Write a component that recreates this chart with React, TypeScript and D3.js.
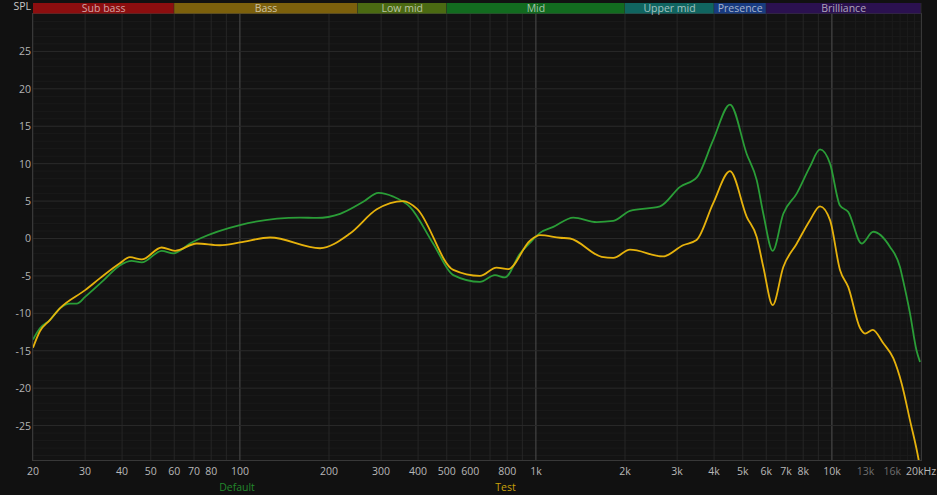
import React from "react";
import * as d3 from "d3";

// ---- data ----
const defaultFreq = [20, 21.1, 22.8, 24.7, 26.7, 28.1, 30, 34.6, 39.3, 43.1, 46.6, 54.4, 59.6, 67.8, 73.3, 100, 159.6, 181.7, 218, 261, 294, 330, 376, 450, 526, 647, 727, 786, 884, 955, 1032, 1145, 1338, 1604, 1826, 2079, 2626, 3069, 3502, 3966, 4526, 5155, 5572, 5866, 6310, 6852, 7604, 8433, 9118, 9857, 10650, 11360, 12600, 13800, 15700, 16980, 17400, 18360, 19300, 19850];
const defaultDb = [-13.5, -12.0, -10.9, -9.3, -8.7, -8.7, -7.8, -5.6, -3.6, -3.0, -3.2, -1.65, -2.0, -0.67, 0, 1.8, 2.8, 2.75, 3.3, 4.9, 6.1, 5.6, 4.2, -0.7, -4.9, -5.8, -4.9, -5.2, -2.0, -0.6, 0.75, 1.55, 2.8, 2.2, 2.35, 3.7, 4.3, 6.9, 8.2, 13.1, 17.9, 11.3, 7.8, 3.3, -1.65, 3.3, 6.0, 9.6, 11.9, 10.0, 4.4, 3.55, -0.67, 0.9, -1.1, -3.8, -5.6, -10.0, -14.9, -16.5];

const testFreq = [20, 21.1, 22.8, 24.7, 30, 33.7, 39.3, 42.5, 46.6, 54.4, 60.4, 71.5, 85.6, 100, 126.4, 186.5, 235.5, 290, 357, 396, 526, 647, 736, 806, 955, 1032, 1206, 1304, 1668, 1826, 2079, 2690, 3140, 3490, 3970, 4526, 5155, 5572, 5866, 6310, 6852, 7604, 8433, 9118, 9857, 10650, 11360, 12460, 12940, 13740, 14920, 16120, 17210, 18360, 19640, 20000];
const testDb = [-14.6, -12.4, -10.9, -9.3, -6.9, -5.3, -3.3, -2.5, -2.8, -1.2, -1.65, -0.67, -0.9, -0.53, 0.13, -1.3, 0.67, 3.9, 5.0, 4.0, -4.2, -5.0, -3.9, -4.1, -0.3, 0.44, 0.1, 0, -2.45, -2.6, -1.5, -2.4, -0.9, -0.2, 4.7, 9.0, 2.9, 0.2, -3.8, -8.9, -3.8, -0.7, 2.45, 4.3, 2.45, -4.2, -6.5, -12.0, -12.7, -12.2, -14.0, -16.0, -19.4, -24.3, -29.6, -31.5];

const bandNames = ["Sub bass", "Bass", "Low mid", "Mid", "Upper mid", "Presence", "Brilliance"];
const bandStart = [20, 60, 250, 500, 2000, 4000, 6000];
const bandEnd = [60, 250, 500, 2000, 4000, 6000, 20000];
const bandColors = ["#8c0e0f", "#7c600c", "#4b6a12", "#126b1f", "#106560", "#183b80", "#2b1150"];

const xTickValues = [20, 30, 40, 50, 60, 70, 80, 100, 200, 300, 400, 500, 600, 800, 1000, 2000, 3000, 4000, 5000, 6000, 7000, 8000, 10000, 13000, 16000, 20000];
const xTickLabels = ["20", "30", "40", "50", "60", "70", "80", "100", "200", "300", "400", "500", "600", "800", "1k", "2k", "3k", "4k", "5k", "6k", "7k", "8k", "10k", "13k", "16k", "20kHz"];
const dimLabels = ["13k", "16k"];
const yTicks = [25, 20, 15, 10, 5, 0, -5, -10, -15, -20, -25];

const seriesNames = ["Default", "Test"];
const seriesColors = ["#2a9d37", "#e6b20c"];
const legendColors = ["#23872c", "#c9a00a"];

export default function App() {
  const W = 937, H = 495;
  const L = 33, R = 921, T = 14, B = 460;
  const x = d3.scaleLog().domain([20, 20000]).range([L, R]);
  const y = d3.scaleLinear().domain([-29.6, 30]).range([B, T]);

  const gridFreqs: number[] = [];
  for (const dec of [10, 100, 1000]) {
    for (let k = 1; k <= 9; k++) {
      const f = k * dec;
      if (f >= 20 && f < 10000) gridFreqs.push(f);
    }
  }
  const fineFreqs: number[] = [];
  for (let f = 10000; f <= 20000; f += 1000) fineFreqs.push(f);

  const minorDb: number[] = [];
  for (let v = -29; v <= 29; v++) if (v % 5 !== 0) minorDb.push(v);
  const majorDb: number[] = [];
  for (let v = -25; v <= 25; v += 5) majorDb.push(v);

  const line = d3
    .line<[number, number]>()
    .x((d) => x(d[0]))
    .y((d) => y(d[1]))
    .curve(d3.curveMonotoneX);

  const defaultPath = line(defaultFreq.map((f, i) => [f, defaultDb[i]] as [number, number])) || "";
  const testPath = line(testFreq.map((f, i) => [f, testDb[i]] as [number, number])) || "";

  const font = "'Open Sans', 'Noto Sans', sans-serif";

  return (
    <svg
      width={W}
      height={H}
      style={{ position: "absolute", left: 0, top: 0, display: "block", background: "#111111" }}
      fontFamily={font}
    >
      <defs>
        <clipPath id="plotClip">
          <rect x={L} y={T} width={R - L} height={B - T} />
        </clipPath>
      </defs>
      <rect x={0} y={0} width={W} height={H} fill="#111111" />
      <rect x={L} y={T} width={R - L} height={B - T} fill="#131313" />

      {/* minor horizontal grid */}
      {minorDb.map((v) => (
        <line key={"mh" + v} x1={L} x2={R} y1={y(v)} y2={y(v)} stroke="#1a1a1a" strokeWidth={1} />
      ))}
      {/* fine vertical grid 10k-20k */}
      {fineFreqs.map((f) => (
        <line key={"fv" + f} x1={x(f)} x2={x(f)} y1={T} y2={B} stroke="#1c1c1c" strokeWidth={1} />
      ))}
      {/* vertical grid */}
      {gridFreqs.map((f) => (
        <line
          key={"v" + f}
          x1={x(f)}
          x2={x(f)}
          y1={T}
          y2={B}
          stroke={f === 100 || f === 1000 ? "#4e4e4e" : "#262626"}
          strokeWidth={1}
        />
      ))}
      <line x1={x(10000)} x2={x(10000)} y1={T} y2={B} stroke="#4e4e4e" strokeWidth={1} />
      {/* major horizontal grid */}
      {majorDb.map((v) => (
        <line key={"h" + v} x1={L} x2={R} y1={y(v)} y2={y(v)} stroke="#2a2a2a" strokeWidth={1} />
      ))}
      {/* plot border */}
      <rect x={L - 0.5} y={T - 0.5} width={R - L + 1} height={B - T + 1} fill="none" stroke="#383838" strokeWidth={1} />

      {/* bands */}
      {bandNames.map((n, i) => {
        const x0 = x(bandStart[i]);
        const x1 = x(bandEnd[i]);
        return (
          <g key={n}>
            <rect x={x0} y={3} width={x1 - x0} height={10.5} fill={bandColors[i]} />
            <line x1={x1} x2={x1} y1={3} y2={13.5} stroke="#2a2a2a" strokeWidth={1} />
            <text
              x={(x0 + x1) / 2}
              y={12}
              textAnchor="middle"
              fontSize={10.5}
              fill="rgba(255,255,255,0.62)"
            >
              {n}
            </text>
          </g>
        );
      })}

      {/* curves */}
      <g clipPath="url(#plotClip)">
        <path d={defaultPath} fill="none" stroke={seriesColors[0]} strokeWidth={1.8} />
        <path d={testPath} fill="none" stroke={seriesColors[1]} strokeWidth={1.8} />
      </g>

      {/* y labels */}
      <text x={31} y={10} textAnchor="end" fontSize={10.5} fill="#c8c8c8">
        SPL
      </text>
      {yTicks.map((v) => (
        <text key={"yl" + v} x={31} y={y(v) + 4} textAnchor="end" fontSize={10.5} fill="#b4b4b4">
          {v}
        </text>
      ))}

      {/* x labels */}
      {xTickValues.map((f, i) => (
        <text
          key={"xl" + f}
          x={x(f)}
          y={475}
          textAnchor="middle"
          fontSize={10.5}
          fill={dimLabels.includes(xTickLabels[i]) ? "#6e6e6e" : "#b8b8b8"}
        >
          {xTickLabels[i]}
        </text>
      ))}

      {/* legend */}
      <text x={237} y={491} textAnchor="middle" fontSize={10.5} fill={legendColors[0]}>
        {seriesNames[0]}
      </text>
      <text x={505.5} y={491} textAnchor="middle" fontSize={10.5} fill={legendColors[1]}>
        {seriesNames[1]}
      </text>
    </svg>
  );
}
